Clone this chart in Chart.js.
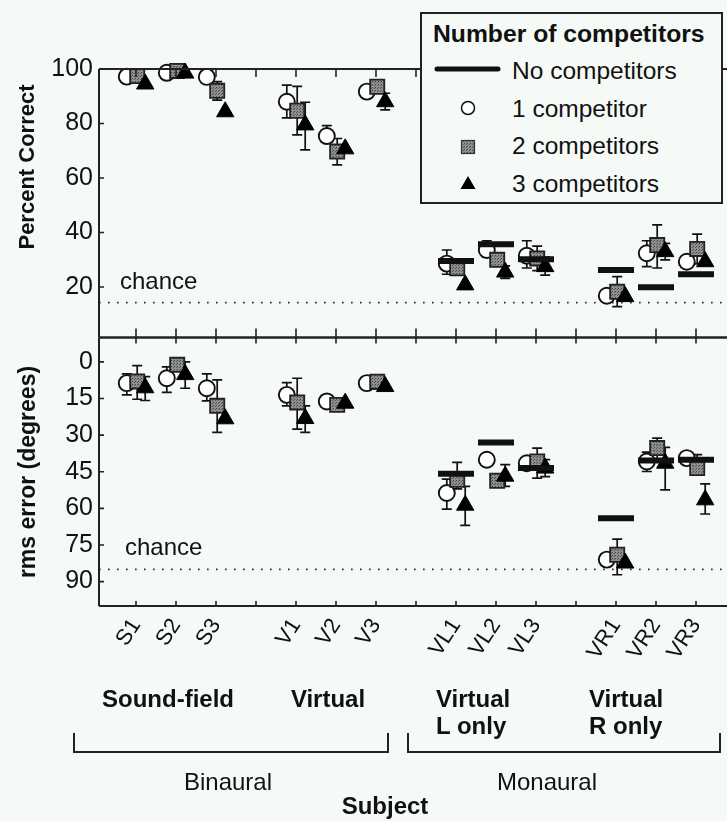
<!DOCTYPE html>
<html><head><meta charset="utf-8">
<script src="https://cdn.jsdelivr.net/npm/chart.js@4.4.1/dist/chart.umd.min.js"></script>
<style>
html,body{margin:0;padding:0;background:#f6faf6;}
#wrap{position:relative;width:727px;height:821px;overflow:hidden;font-family:"Liberation Sans",Arial,sans-serif;color:#111;}
canvas{position:absolute;left:0;}
.t{position:absolute;white-space:nowrap;font-size:24px;line-height:24px;}
.c{transform:translateX(-50%);}
.b{font-weight:bold;}
.rot{position:absolute;white-space:nowrap;font-weight:bold;line-height:1;transform:translate(-50%,-50%) rotate(-90deg);}
.br{position:absolute;box-sizing:border-box;border:2px solid #222;border-top:none;}
#legend{position:absolute;left:420px;top:12px;width:303px;height:192px;box-sizing:border-box;border:2px solid #222;background:#f6faf6;}
#legend .t{font-size:24.5px;}
#legend svg{position:absolute;left:0;top:0;}
</style></head>
<body><div id="wrap">
<canvas id="cA" width="727" height="345" style="top:0"></canvas>
<canvas id="cB" width="727" height="521" style="top:300px"></canvas>

<div class="rot" style="left:27px;top:167px;font-size:22px;">Percent Correct</div>
<div class="rot" style="left:27px;top:472px;font-size:23px;">rms error (degrees)</div>

<div class="t" style="left:120px;top:268.7px;">chance</div>
<div class="t" style="left:125px;top:534.7px;">chance</div>

<div class="t b c" style="left:168px;top:686.7px;">Sound-field</div>
<div class="t b c" style="left:328px;top:686.7px;">Virtual</div>
<div class="t b" style="left:436px;top:685.2px;line-height:27px;">Virtual<br>L only</div>
<div class="t b" style="left:589px;top:685.2px;line-height:27px;">Virtual<br>R only</div>
<div class="br" style="left:73px;top:733px;width:316px;height:20px;"></div>
<div class="br" style="left:407px;top:733px;width:314px;height:20px;"></div>
<div class="t c" style="left:228px;top:769.7px;">Binaural</div>
<div class="t c" style="left:547px;top:769.7px;">Monaural</div>
<div class="t b c" style="left:385px;top:793.7px;">Subject</div>

<div id="legend">
  <svg width="300" height="190">
    <defs><pattern id="hp" width="3" height="3" patternUnits="userSpaceOnUse"><rect width="3" height="3" fill="#8e8e8e"/><rect width="1" height="1" fill="#444"/><rect x="2" y="1" width="1" height="1" fill="#555"/></pattern></defs>
    <line x1="15" y1="55" x2="76" y2="55" stroke="#111" stroke-width="5" stroke-linecap="round"/>
    <circle cx="46" cy="94" r="6.5" fill="#fff" stroke="#111" stroke-width="1.5"/>
    <rect x="39.5" y="126.5" width="13" height="13" fill="url(#hp)" stroke="#333" stroke-width="1.2"/>
    <polygon points="46,162 53.5,175 38.5,175" fill="#000"/>
  </svg>
  <div class="t b" style="left:11px;top:7.5px;font-size:24.7px;">Number of competitors</div>
  <div class="t" style="left:90px;top:44.7px;">No competitors</div>
  <div class="t" style="left:90px;top:82.7px;">1 competitor</div>
  <div class="t" style="left:90px;top:119.7px;">2 competitors</div>
  <div class="t" style="left:90px;top:157.7px;">3 competitors</div>
</div>
</div>
<script>
// ---------- data ----------
const subjects = ['S1','S2','S3','V1','V2','V3','VL1','VL2','VL3','VR1','VR2','VR3'];
const tickLabels = ['S1','S2','S3','','V1','V2','V3','','VL1','VL2','VL3','','VR1','VR2','VR3'];
const pcTicks = [20,40,60,80,100];
const rmsTicks = [0,15,30,45,60,75,90];
const pcChance = 14.3;
const rmsChance = 85;

// Percent correct
const pcNone = [null,null,null,null,null,null,29.6,35.7,30.2,26.3,19.9,24.7];
const pc1 = [97.2,98.6,97.1,88.0,75.4,91.7,28.6,33.6,31.5,16.8,32.4,29.3];
const pc2 = [97.4,99.3,92.0,84.7,69.7,93.5,26.9,30.0,30.5,18.3,35.4,34.0];
const pc3 = [94.5,98.5,84.3,79.5,70.7,88.0,20.8,25.5,27.5,16.5,33.0,29.3];
const pcErr1 = [null,null,null,[82.1,94.1],[73.3,79.2],null,[24.7,33.6],[31,37],[27,37],null,[27.5,37],null];
const pcErr2 = [null,null,[88.6,95.4],[75.8,93.6],[64.8,74.5],null,[24.5,29.5],null,[26,35],[12.8,23.8],[27,42.8],[28.5,39.4]];
const pcErr3 = [null,null,null,[70.3,87.8],null,[85,91.1],null,[23.2,27.8],[24.4,31],null,[30,36],null];

// rms error (degrees)
const rmsNone = [null,null,null,null,null,null,45.8,33.0,43.5,64.0,40.4,40.1];
const rms1 = [8.7,6.7,10.8,13.5,16.2,8.7,53.7,40.1,41.5,81.0,40.8,39.4];
const rms2 = [8.0,1.2,18.0,16.6,17.6,8.1,48.3,48.7,40.8,79.0,35.3,43.5];
const rms3 = [10.6,5.2,23.3,23.2,16.9,10.1,58.7,46.8,43.5,82.4,41.5,56.5];
const rmsErr1 = [[4.9,13.5],[2,12.5],[4.9,16],[8.5,18],null,null,[48,60.3],null,null,null,[37,44.9],null];
const rmsErr2 = [[1.5,15.3],[-0.5,3],[7.4,28.9],[6.7,27.5],null,[5.3,11],[41.2,52],null,[35.3,47.6],[72.6,87.2],[31.2,40],[38,46.2]];
const rmsErr3 = [[6,15.8],[0,10.8],null,[18,28.9],null,null,[51,67],[42.1,51],[40,47],null,[35,52.4],[50,62.3]];

// ---------- styling ----------
const FONT = 'Liberation Sans';
const X_MIN = -0.925, X_MAX = 14.775;
const OFF = {c:-0.23, s:0.03, t:0.23};

const pc = document.createElement('canvas'); pc.width = 3; pc.height = 3;
const g = pc.getContext('2d');
g.fillStyle = '#8e8e8e'; g.fillRect(0,0,3,3);
g.fillStyle = '#444'; g.fillRect(0,0,1,1);
g.fillStyle = '#555'; g.fillRect(2,1,1,1);
const sqFill = g.createPattern(pc, 'repeat');

function pts(vals, off){
  return subjects.map((s,i)=> vals[i]==null ? null : {x: tickLabels.indexOf(s)+off, y: vals[i]}).filter(p=>p);
}

function datasets(none, v1, v2, v3, chance){
  return [
    {label:'No competitors', data: pts(none,0), pointStyle:'line', pointRadius:18, borderWidth:6, borderColor:'#111', backgroundColor:'#111', order:0, clip:false},
    {label:'3 competitors', data: pts(v3,OFF.t), pointStyle:'triangle', pointRadius:10, borderWidth:1, borderColor:'#000', backgroundColor:'#000', order:1, clip:false},
    {label:'2 competitors', data: pts(v2,OFF.s), pointStyle:'rect', pointRadius:10, borderWidth:1.8, borderColor:'#222', backgroundColor:sqFill, order:2, clip:false},
    {label:'1 competitor', data: pts(v1,OFF.c), pointStyle:'circle', pointRadius:8, borderWidth:1.9, borderColor:'#111', backgroundColor:'#fff', order:3, clip:false},
    {label:'chance', type:'line', data:[{x:X_MIN,y:chance},{x:X_MAX,y:chance}], showLine:true, pointRadius:0, borderColor:'#333', borderWidth:1.7, borderDash:[1.7,7.3], order:4}
  ];
}

function deco(series, tk){
  return {
    id:'deco',
    beforeDatasetsDraw(chart){
      const {ctx, scales:{x,y}} = chart;
      ctx.save(); ctx.strokeStyle = '#111'; ctx.lineWidth = 1.7;
      series.forEach(s=>{
        subjects.forEach((name,i)=>{
          const e = s.errs[i]; if(!e) return;
          const px = x.getPixelForValue(tickLabels.indexOf(name)+s.off);
          const y1 = y.getPixelForValue(e[0]), y2 = y.getPixelForValue(e[1]);
          ctx.beginPath();
          ctx.moveTo(px,y1); ctx.lineTo(px,y2);
          ctx.moveTo(px-5,y1); ctx.lineTo(px+5,y1);
          ctx.moveTo(px-5,y2); ctx.lineTo(px+5,y2);
          ctx.stroke();
        });
      });
      ctx.restore();
    },
    afterDraw(chart){
      const {ctx, chartArea:ca, scales:{x,y}} = chart;
      ctx.save(); ctx.strokeStyle = '#222'; ctx.lineWidth = 2;
      ctx.beginPath();
      ctx.moveTo(ca.left, ca.top); ctx.lineTo(ca.left, ca.bottom);
      ctx.moveTo(ca.left, ca.top); ctx.lineTo(ca.right, ca.top);
      ctx.moveTo(ca.left, ca.bottom); ctx.lineTo(ca.right, ca.bottom);
      ctx.stroke();
      ctx.lineWidth = 1.6; ctx.beginPath();
      y.ticks.forEach(t=>{ const py = y.getPixelForValue(t.value); ctx.moveTo(ca.left,py); ctx.lineTo(ca.left+5,py); });
      tickLabels.forEach((l,i)=>{
        const px = x.getPixelForValue(i);
        if (tk.top) { ctx.moveTo(px, ca.top); ctx.lineTo(px, ca.top + tk.top); }
        if (tk.bot) { ctx.moveTo(px, ca.bottom); ctx.lineTo(px, ca.bottom - tk.bot); }
      });
      ctx.stroke(); ctx.restore();
    }
  };
}

const yTickFont = {family:FONT, size:25};
function noPad(s){ s.paddingTop = 0; s.paddingBottom = 0; s.paddingLeft = 0; s.paddingRight = 0; }

new Chart(document.getElementById('cA'), {
  type:'scatter',
  data:{datasets: datasets(pcNone, pc1, pc2, pc3, pcChance)},
  options:{
    responsive:false, animation:false, events:[],
    layout:{autoPadding:false, padding:{left:0, right:0, top:69, bottom:7.5}},
    plugins:{legend:{display:false}, tooltip:{enabled:false}},
    scales:{
      x:{type:'linear', min:X_MIN, max:X_MAX, display:false,
         ticks:{display:false}, afterFit: s => { s.height = 0; noPad(s); }},
      y:{type:'linear', min:1.5, max:100,
         afterBuildTicks: s => { s.ticks = pcTicks.map(v=>({value:v})); },
         afterFit: s => { s.width = 99; noPad(s); },
         grid:{display:false, drawTicks:false}, border:{display:false},
         ticks:{padding:6, color:'#111', font:yTickFont}}
    }
  },
  plugins:[deco([{errs:pcErr1,off:OFF.c},{errs:pcErr2,off:OFF.s},{errs:pcErr3,off:OFF.t}], {top:8, bot:9})]
});

new Chart(document.getElementById('cB'), {
  type:'scatter',
  data:{datasets: datasets(rmsNone, rms1, rms2, rms3, rmsChance)},
  options:{
    responsive:false, animation:false, events:[],
    layout:{autoPadding:false, padding:{left:0, right:0, top:37.5, bottom:155}},
    plugins:{legend:{display:false}, tooltip:{enabled:false}},
    scales:{
      x:{type:'linear', min:X_MIN, max:X_MAX, position:'bottom',
         afterBuildTicks: s => { s.ticks = tickLabels.map((l,i)=>({value:i})); },
         afterFit: s => { s.height = 60; noPad(s); },
         grid:{display:false, drawTicks:false}, border:{display:false},
         ticks:{autoSkip:false, minRotation:57, maxRotation:57, padding:8, color:'#111',
                font:{family:FONT, size:22},
                callback: v => tickLabels[Math.round(v)]}},
      y:{type:'linear', min:-10, max:100, reverse:true,
         afterBuildTicks: s => { s.ticks = rmsTicks.map(v=>({value:v})); },
         afterFit: s => { s.width = 99; noPad(s); },
         grid:{display:false, drawTicks:false}, border:{display:false},
         ticks:{padding:6, color:'#111', font:yTickFont}}
    }
  },
  plugins:[deco([{errs:rmsErr1,off:OFF.c},{errs:rmsErr2,off:OFF.s},{errs:rmsErr3,off:OFF.t}], {top:6, bot:5})]
});
</script>
</body></html>
